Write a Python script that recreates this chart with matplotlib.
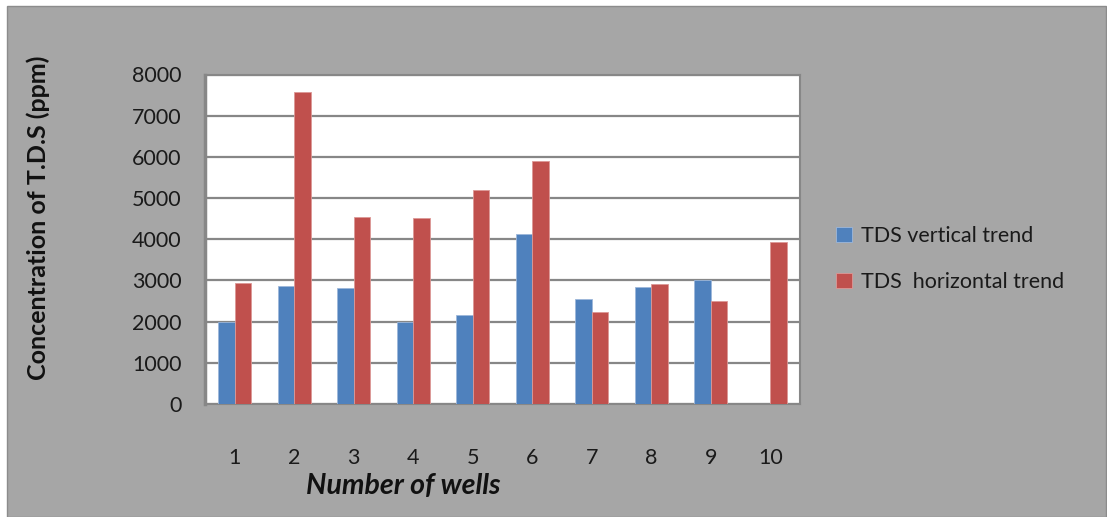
import matplotlib
matplotlib.use("Agg")
import matplotlib.pyplot as plt
from matplotlib.patches import Rectangle
import numpy as np

# Total dissolved solids per well (ppm)
wells = ["1", "2", "3", "4", "5", "6", "7", "8", "9", "10"]
tds_vertical = [2000, 2870, 2815, 2000, 2150, 4130, 2560, 2835, 3000, 0]
tds_horizontal = [2930, 7570, 4550, 4515, 5190, 5895, 2235, 2915, 2500, 3930]
y_ticks = [0, 1000, 2000, 3000, 4000, 5000, 6000, 7000, 8000]

series_names = ["TDS vertical trend", "TDS  horizontal trend"]
blue = "#4f81bd"
red = "#c0504d"
panel = "#a6a6a6"
grid = "#878787"

plt.rcParams["font.family"] = ["Lato", "DejaVu Sans"]

W, H = 1107, 517
fig = plt.figure(figsize=(W / 100, H / 100), dpi=100)
fig.patch.set_facecolor("white")

# grey chart area with a thin white margin at top and left
fig.add_artist(Rectangle((7 / W, 0), (1106 - 7) / W, (H - 6) / H,
                         transform=fig.transFigure, facecolor=panel,
                         edgecolor="#8c8c8c", linewidth=1.0, zorder=-10))

ax = fig.add_axes([205 / W, 1 - 404 / H, (800 - 205) / W, (404 - 74.5) / H])
ax.set_facecolor("white")

x = np.arange(1, len(wells) + 1)
bw = 0.28
ax.bar(x - bw / 2, tds_vertical, width=bw, color=blue, edgecolor="#9db7da",
       linewidth=0.6, label=series_names[0], zorder=3)
ax.bar(x + bw / 2, tds_horizontal, width=bw, color=red, edgecolor="#dc9896",
       linewidth=0.6, label=series_names[1], zorder=3)

ax.set_xlim(0.5, len(wells) + 0.5)
ax.set_ylim(0, 8000)
ax.set_yticks(y_ticks)
ax.set_yticklabels([str(v) for v in y_ticks])
ax.set_xticks(x)
ax.set_xticklabels(wells)
ax.yaxis.grid(True, color=grid, linewidth=1.6, zorder=0)
ax.set_axisbelow(True)
ax.tick_params(axis="both", length=0, labelsize=15.5, colors="#1a1a1a")
ax.tick_params(axis="x", pad=32)
ax.tick_params(axis="y", pad=17)
for s in ax.spines.values():
    s.set_color(grid)
    s.set_linewidth(1.5)
ax.spines["left"].set_linewidth(2.5)

fig.text(38 / W, 1 - 217.5 / H, "Concentration of T.D.S (ppm)", rotation=90,
         ha="center", va="center", fontsize=18, fontweight="bold",
         color="#111111")
fig.text(403 / W, 1 - 486 / H, "Number of wells", ha="center", va="center",
         fontsize=20.5, fontweight="bold", fontstyle="italic", color="#111111")

leg = fig.legend(loc="center left", bbox_to_anchor=(825 / W, 1 - 259 / H),
                 frameon=False, fontsize=15.5, handlelength=0.75,
                 handleheight=0.75, handletextpad=0.4, labelspacing=1.2,
                 borderpad=0)
for t in leg.get_texts():
    t.set_color("#1a1a1a")

fig.savefig("out.png", dpi=100, facecolor=fig.get_facecolor())
